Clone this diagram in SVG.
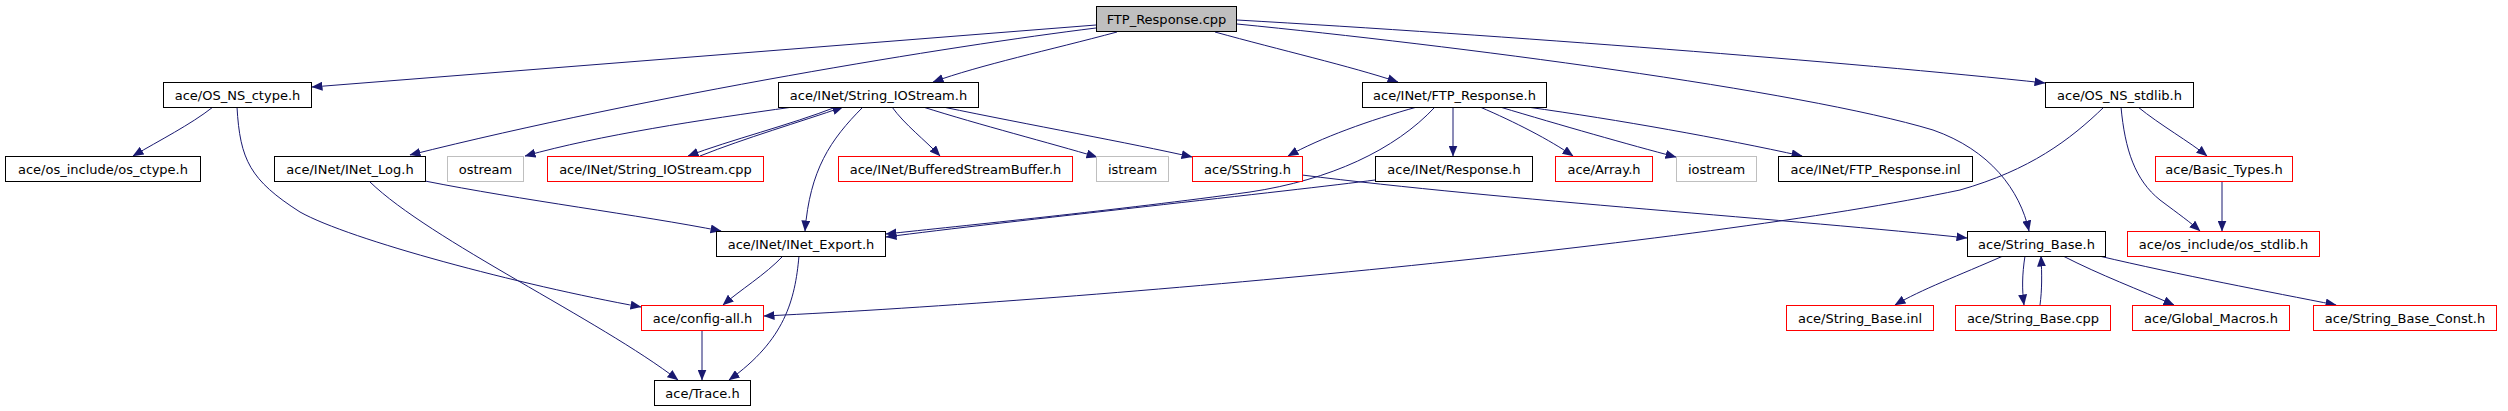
<svg xmlns="http://www.w3.org/2000/svg" width="2508" height="411" viewBox="0 0 2508 411">
<style>
.n rect{fill:#fff;stroke:#000;stroke-width:1}
.n.r rect{stroke:#ff0000}
.n.g rect{stroke:#bfbfbf}
.n.m rect{fill:#bfbfbf}
.n text{font-family:"DejaVu Sans",sans-serif;font-size:13px;text-anchor:middle;fill:#000}
.e path{fill:none;stroke:#191970;stroke-width:1;marker-end:url(#ah)}
</style>
<defs>
<marker id="ah" markerUnits="userSpaceOnUse" viewBox="0 0 11 9" refX="10.5" refY="4.5" markerWidth="11" markerHeight="9" orient="auto">
<path d="M0,0 L11,4.5 L0,9 z" fill="#191970"/>
</marker>
</defs>
<rect width="2508" height="411" fill="#fff"/>
<g id="edges" class="e">
<path d="M1096,25 L312,87"/>
<path d="M1096,28 C950,46 650,95 410,155"/>
<path d="M1117,32 C1050,50 980,65 933,82"/>
<path d="M1215,32 C1280,50 1350,66 1398,82"/>
<path d="M1237,24 C1450,45 1800,90 1933,130 C1990,150 2020,190 2029,231"/>
<path d="M1237,20 C1500,35 1850,62 2045,83"/>
<path d="M213,107 C190,125 160,140 133,156"/>
<path d="M237,107 C240,160 250,180 300,212 C350,240 520,285 641,307"/>
<path d="M793,107 C700,120 600,135 525,156"/>
<path d="M836,107 C790,125 730,140 688,156"/>
<path d="M700,156 C745,138 800,122 843,107"/>
<path d="M863,107 C830,140 810,170 805,231"/>
<path d="M892,107 C905,125 925,140 940,156"/>
<path d="M923,107 C980,125 1050,143 1097,157"/>
<path d="M943,107 C1030,125 1130,143 1192,157"/>
<path d="M425,181 C520,200 640,215 721,231"/>
<path d="M370,182 C430,240 600,320 678,380"/>
<path d="M1417,107 C1370,120 1320,138 1288,156"/>
<path d="M1435,107 C1395,150 1330,180 1250,192 C1120,210 960,226 886,234"/>
<path d="M1453,107 L1453,156"/>
<path d="M1480,107 C1515,122 1550,140 1573,156"/>
<path d="M1500,107 C1560,125 1630,145 1676,157"/>
<path d="M1527,107 C1620,120 1720,138 1802,156"/>
<path d="M1375,180 C1300,190 1000,222 886,237"/>
<path d="M1302,175 C1500,200 1800,220 1967,238"/>
<path d="M2104,107 C2070,140 2030,170 1960,190 C1700,245 1100,300 764,316"/>
<path d="M2138,107 C2160,125 2190,142 2207,156"/>
<path d="M2121,107 C2125,150 2135,180 2160,200 C2180,215 2190,222 2200,231"/>
<path d="M2222,181 L2222,231"/>
<path d="M783,256 C765,275 740,290 723,305"/>
<path d="M799,256 C795,300 785,340 729,380"/>
<path d="M702,330 L702,380"/>
<path d="M2003,256 C1960,275 1920,290 1895,305"/>
<path d="M2025,256 C2022,275 2022,290 2024,305"/>
<path d="M2040,305 C2042,290 2042,275 2041,256"/>
<path d="M2063,256 C2100,275 2140,290 2174,305"/>
<path d="M2099,256 C2180,275 2270,292 2336,305"/>
</g>
<g id="n_ftp_response_cpp" class="n m"><rect x="1096.5" y="6.5" width="140" height="25"/><text x="1166.5" y="24">FTP_Response.cpp</text></g>
<g id="n_os_ns_ctype" class="n"><rect x="163.5" y="82.5" width="148" height="25"/><text x="237.5" y="100">ace/OS_NS_ctype.h</text></g>
<g id="n_string_iostream_h" class="n"><rect x="778.5" y="82.5" width="200" height="25"/><text x="878.5" y="100">ace/INet/String_IOStream.h</text></g>
<g id="n_ftp_response_h" class="n"><rect x="1362.5" y="82.5" width="184" height="25"/><text x="1454.5" y="100">ace/INet/FTP_Response.h</text></g>
<g id="n_os_ns_stdlib" class="n"><rect x="2045.5" y="82.5" width="148" height="25"/><text x="2119.5" y="100">ace/OS_NS_stdlib.h</text></g>
<g id="n_os_ctype" class="n"><rect x="5.5" y="156.5" width="195" height="25"/><text x="103" y="174">ace/os_include/os_ctype.h</text></g>
<g id="n_inet_log" class="n"><rect x="274.5" y="156.5" width="151" height="25"/><text x="350" y="174">ace/INet/INet_Log.h</text></g>
<g id="n_ostream" class="n g"><rect x="447.5" y="156.5" width="76" height="25"/><text x="485.5" y="174">ostream</text></g>
<g id="n_string_iostream_cpp" class="n r"><rect x="547.5" y="156.5" width="216" height="25"/><text x="655.5" y="174">ace/INet/String_IOStream.cpp</text></g>
<g id="n_buffered" class="n r"><rect x="838.5" y="156.5" width="234" height="25"/><text x="955.5" y="174">ace/INet/BufferedStreamBuffer.h</text></g>
<g id="n_istream" class="n g"><rect x="1096.5" y="156.5" width="72" height="25"/><text x="1132.5" y="174">istream</text></g>
<g id="n_sstring" class="n r"><rect x="1192.5" y="156.5" width="110" height="25"/><text x="1247.5" y="174">ace/SString.h</text></g>
<g id="n_response" class="n"><rect x="1375.5" y="156.5" width="157" height="25"/><text x="1454" y="174">ace/INet/Response.h</text></g>
<g id="n_array" class="n r"><rect x="1555.5" y="156.5" width="97" height="25"/><text x="1604" y="174">ace/Array.h</text></g>
<g id="n_iostream" class="n g"><rect x="1676.5" y="156.5" width="80" height="25"/><text x="1716.5" y="174">iostream</text></g>
<g id="n_ftp_response_inl" class="n"><rect x="1778.5" y="156.5" width="194" height="25"/><text x="1875.5" y="174">ace/INet/FTP_Response.inl</text></g>
<g id="n_basic_types" class="n r"><rect x="2155.5" y="156.5" width="137" height="25"/><text x="2224" y="174">ace/Basic_Types.h</text></g>
<g id="n_inet_export" class="n"><rect x="716.5" y="231.5" width="169" height="25"/><text x="801" y="249">ace/INet/INet_Export.h</text></g>
<g id="n_string_base_h" class="n"><rect x="1967.5" y="231.5" width="138" height="25"/><text x="2036.5" y="249">ace/String_Base.h</text></g>
<g id="n_os_stdlib" class="n r"><rect x="2127.5" y="231.5" width="192" height="25"/><text x="2223.5" y="249">ace/os_include/os_stdlib.h</text></g>
<g id="n_config_all" class="n r"><rect x="641.5" y="305.5" width="122" height="25"/><text x="702.5" y="323">ace/config-all.h</text></g>
<g id="n_string_base_inl" class="n r"><rect x="1786.5" y="305.5" width="147" height="25"/><text x="1860" y="323">ace/String_Base.inl</text></g>
<g id="n_string_base_cpp" class="n r"><rect x="1955.5" y="305.5" width="155" height="25"/><text x="2033" y="323">ace/String_Base.cpp</text></g>
<g id="n_global_macros" class="n r"><rect x="2132.5" y="305.5" width="157" height="25"/><text x="2211" y="323">ace/Global_Macros.h</text></g>
<g id="n_string_base_const" class="n r"><rect x="2313.5" y="305.5" width="183" height="25"/><text x="2405" y="323">ace/String_Base_Const.h</text></g>
<g id="n_trace" class="n"><rect x="654.5" y="380.5" width="96" height="25"/><text x="702.5" y="398">ace/Trace.h</text></g>
</svg>
